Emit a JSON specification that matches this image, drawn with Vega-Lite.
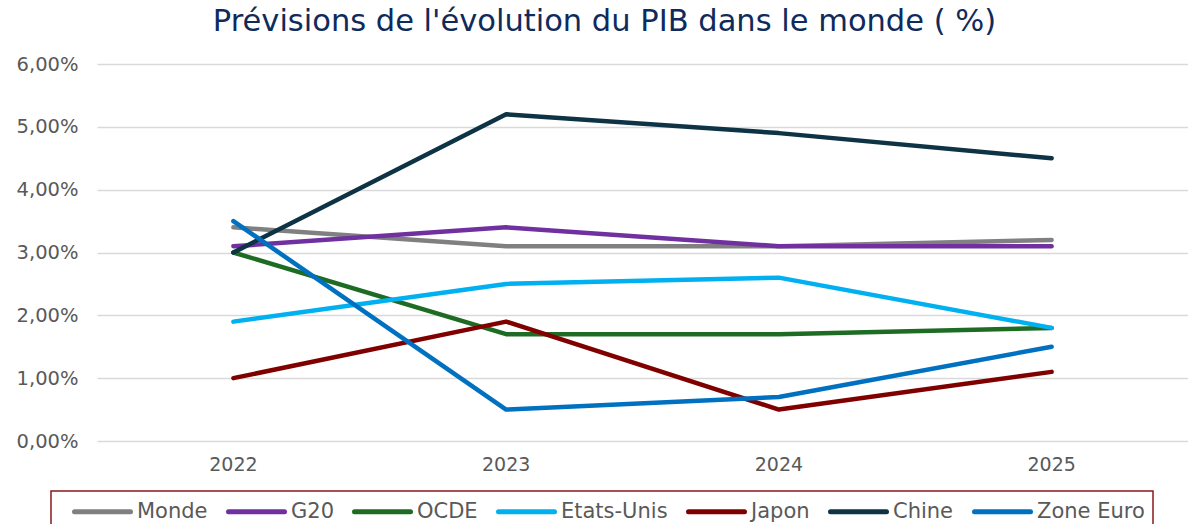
{
  "$schema": "https://vega.github.io/schema/vega-lite/v6.json",
  "autosize": "none",
  "width": 1091,
  "height": 377,
  "padding": {"left": 97, "top": 64, "right": 0, "bottom": 83},
  "background": "white",
  "title": {
    "text": "Prévisions de l'évolution du PIB dans le monde ( %)",
    "font": "DejaVu Sans",
    "fontSize": 30.5,
    "fontWeight": "normal",
    "color": "#0E2B5C",
    "anchor": "middle",
    "dx": -38,
    "offset": 17
  },
  "data": {
    "values": [
      {"annee": "2022", "serie": "Monde", "v": 3.4},
      {"annee": "2023", "serie": "Monde", "v": 3.1},
      {"annee": "2024", "serie": "Monde", "v": 3.1},
      {"annee": "2025", "serie": "Monde", "v": 3.2},
      {"annee": "2022", "serie": "G20", "v": 3.1},
      {"annee": "2023", "serie": "G20", "v": 3.4},
      {"annee": "2024", "serie": "G20", "v": 3.1},
      {"annee": "2025", "serie": "G20", "v": 3.1},
      {"annee": "2022", "serie": "OCDE", "v": 3.0},
      {"annee": "2023", "serie": "OCDE", "v": 1.7},
      {"annee": "2024", "serie": "OCDE", "v": 1.7},
      {"annee": "2025", "serie": "OCDE", "v": 1.8},
      {"annee": "2022", "serie": "Etats-Unis", "v": 1.9},
      {"annee": "2023", "serie": "Etats-Unis", "v": 2.5},
      {"annee": "2024", "serie": "Etats-Unis", "v": 2.6},
      {"annee": "2025", "serie": "Etats-Unis", "v": 1.8},
      {"annee": "2022", "serie": "Japon", "v": 1.0},
      {"annee": "2023", "serie": "Japon", "v": 1.9},
      {"annee": "2024", "serie": "Japon", "v": 0.5},
      {"annee": "2025", "serie": "Japon", "v": 1.1},
      {"annee": "2022", "serie": "Chine", "v": 3.0},
      {"annee": "2023", "serie": "Chine", "v": 5.2},
      {"annee": "2024", "serie": "Chine", "v": 4.9},
      {"annee": "2025", "serie": "Chine", "v": 4.5},
      {"annee": "2022", "serie": "Zone Euro", "v": 3.5},
      {"annee": "2023", "serie": "Zone Euro", "v": 0.5},
      {"annee": "2024", "serie": "Zone Euro", "v": 0.7},
      {"annee": "2025", "serie": "Zone Euro", "v": 1.5}
    ]
  },
  "mark": {"type": "line", "strokeWidth": 4.5, "strokeCap": "round", "strokeJoin": "round"},
  "encoding": {
    "x": {
      "field": "annee",
      "type": "ordinal",
      "scale": {"type": "band", "paddingInner": 0, "paddingOuter": 0},
      "axis": {
        "title": null,
        "labelAngle": 0,
        "domain": false,
        "ticks": false,
        "grid": false,
        "labelFont": "DejaVu Sans",
        "labelFontSize": 19,
        "labelColor": "#595959",
        "labelPadding": 14
      }
    },
    "y": {
      "field": "v",
      "type": "quantitative",
      "scale": {"domain": [0, 6], "nice": false},
      "axis": {
        "title": null,
        "values": [0, 1, 2, 3, 4, 5, 6],
        "labelExpr": "replace(format(datum.value, '.2f'), '.', ',') + '%'",
        "domain": false,
        "ticks": false,
        "grid": true,
        "gridColor": "#D9D9D9",
        "gridWidth": 1.5,
        "labelFont": "DejaVu Sans",
        "labelFontSize": 19.5,
        "labelColor": "#595959",
        "labelPadding": 19
      }
    },
    "color": {
      "field": "serie",
      "type": "nominal",
      "sort": ["Monde", "G20", "OCDE", "Etats-Unis", "Japon", "Chine", "Zone Euro"],
      "scale": {
        "domain": ["Monde", "G20", "OCDE", "Etats-Unis", "Japon", "Chine", "Zone Euro"],
        "range": ["#808080", "#7030A0", "#1E6B24", "#00B0F0", "#800000", "#0D3345", "#0070C0"]
      },
      "legend": {
        "title": null,
        "orient": "none",
        "direction": "horizontal",
        "columns": 7,
        "legendX": -46,
        "legendY": 427,
        "strokeColor": "#8B1A1A",
        "padding": 8,
        "symbolType": "M-2.8,0H2.8",
        "symbolSize": 400,
        "symbolStrokeWidth": 5,
        "symbolOffset": 31,
        "columnPadding": 5,
        "labelOffset": 22,
        "labelFont": "DejaVu Sans",
        "labelFontSize": 21,
        "labelColor": "#595959",
        "encode": {
          "legend": {"update": {"strokeWidth": {"value": 1.5}}},
          "symbols": {"update": {"strokeCap": {"value": "round"}}}
        }
      }
    }
  },
  "config": {
    "view": {"stroke": null}
  }
}
